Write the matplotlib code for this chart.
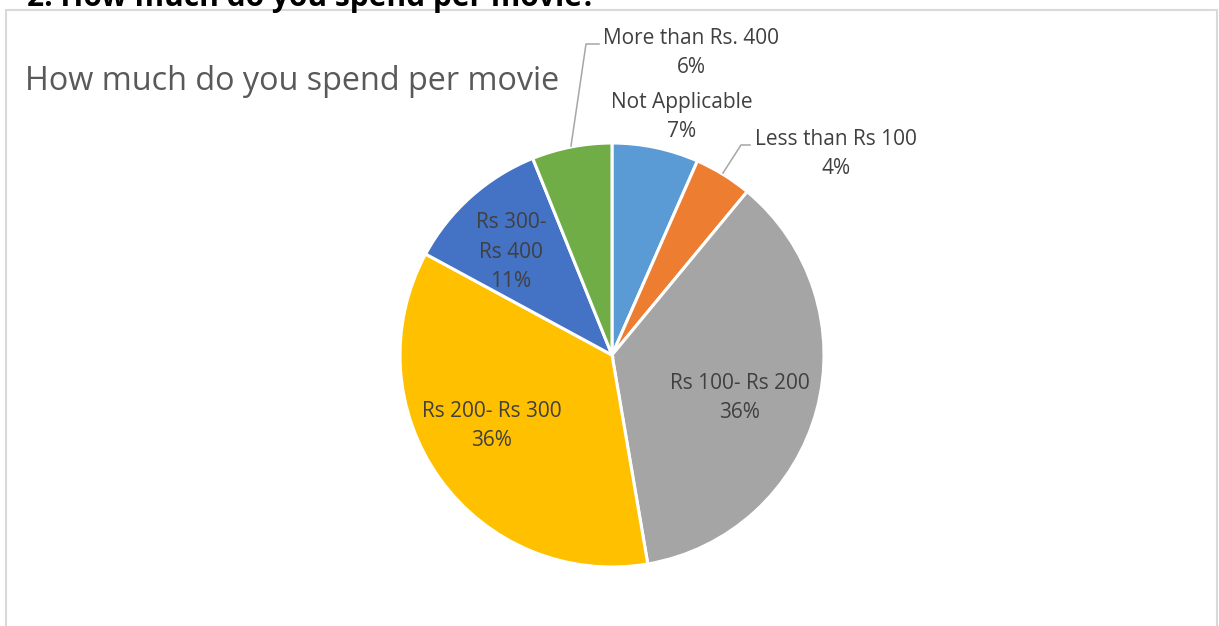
import numpy as np
import matplotlib
matplotlib.use('Agg')
import matplotlib.pyplot as plt
from matplotlib.patches import Rectangle

# data (share of answers, %)
categories = ['Not Applicable', 'Less than Rs 100', 'Rs 100- Rs 200',
              'Rs 200- Rs 300', 'Rs 300-\nRs 400', 'More than Rs. 400']
shares = [6.6, 4.4, 36.3, 35.6, 11.0, 6.1]
colors = ['#5B9BD5', '#ED7D31', '#A5A5A5', '#FFC000', '#4472C4', '#70AD47']

W, H = 1219, 626
plt.rcParams['font.family'] = ['Open Sans', 'DejaVu Sans']

fig = plt.figure(figsize=(W / 100, H / 100), dpi=100)
ax = fig.add_axes([0, 0, 1, 1])


def py(y):
    # pixel row (from top) -> data y
    return H - y


# chart frame (bottom runs off the picture)
ax.add_patch(Rectangle((6, py(640)), 1211, 630, fill=False,
                       edgecolor='#D9D9D9', linewidth=1.5))

# cropped heading from the document above the chart
ax.text(27, py(6), '2. How much do you spend per movie?', fontsize=21.5,
        fontweight='bold', color='black', va='baseline', ha='left')

ax.text(25, py(82), 'How much do you spend per movie', fontsize=23.3,
        color='#595959', va='center', ha='left')

cx, cy, R = 612, py(355), 212
wedges, _ = ax.pie(shares, colors=colors, startangle=90, counterclock=False,
                   center=(cx, cy), radius=R, frame=True,
                   wedgeprops=dict(edgecolor='white', linewidth=2.2))
ax.set_xlim(0, W)
ax.set_ylim(0, H)
ax.set_axis_off()
ax.set_aspect('equal')

pct = [f'{round(s):.0f}%' for s in shares]
label_kw = dict(fontsize=15, color='#404040', ha='center', va='center',
                linespacing=1.55)

# label centres, in pixels from the top-left corner
label_pos = [(682, 117), (836, 154), (740, 398), (492, 426), (511, 252),
             (691, 53)]
for name, p, (x, y) in zip(categories, pct, label_pos):
    ax.text(x, py(y), name + '\n' + p, **label_kw)

# leader lines
lc = dict(color='#A6A6A6', linewidth=1.1)
ax.plot([571, 586, 599], [py(146), py(44), py(44)], **lc)
ax.plot([723, 741, 750], [py(173), py(145), py(145)], **lc)

fig.savefig('out.png', dpi=100)
